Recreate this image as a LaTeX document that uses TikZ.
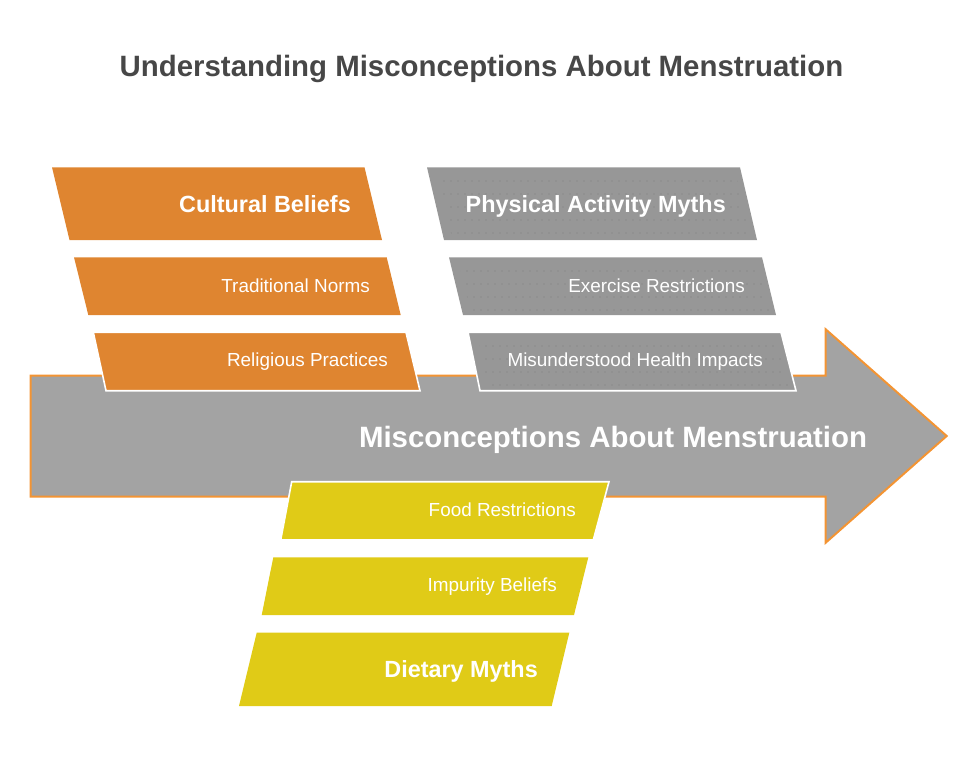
\documentclass[tikz,border=0pt]{standalone}
\usepackage{fontspec}
\setmainfont{Liberation Sans}
\definecolor{orfill}{RGB}{223,133,48}
\definecolor{gyfill}{RGB}{151,151,151}
\definecolor{gydot}{RGB}{128,128,128}
\definecolor{arfill}{RGB}{163,163,163}
\definecolor{arline}{RGB}{243,148,51}
\definecolor{ylfill}{RGB}{224,203,23}
\definecolor{titlecol}{RGB}{71,71,71}
\tikzset{
  arrowshape/.style={fill=arfill, draw=arline, line width=2pt, line join=miter},
  orbox/.style={fill=orfill},
  gybox/.style={fill=gyfill},
  ylbox/.style={fill=ylfill},
  overlapline/.style={draw=white, line width=1.6pt, line join=miter},
  dotfill/.style={fill=gydot},
  headlbl/.style={text=white, font=\bfseries\fontsize{23.4}{26}\selectfont, inner sep=0pt, anchor=base east},
  itemlbl/.style={text=white, font=\fontsize{18.9}{22}\selectfont, inner sep=0pt, anchor=base east},
  mainlbl/.style={text=white, font=\bfseries\fontsize{29.4}{33}\selectfont, inner sep=0pt, anchor=base},
  titlelbl/.style={text=titlecol, font=\bfseries\fontsize{29.4}{33}\selectfont, inner sep=0pt, anchor=base}
}
% dotted texture inside a gray box: #1 list of x, #2 list of y
\newcommand{\graydots}[2]{%
  \foreach \yy in {#2}{%
    \foreach \xx in {#1}{%
      \fill[dotfill] (\xx,\yy) circle[radius=0.55pt];
    }%
  }%
}
\begin{document}
\begin{tikzpicture}[x=1pt,y=-1pt]
\useasboundingbox (0,0) rectangle (978,769);
\node[titlelbl] (title) at (481.5,76.7) {Understanding Misconceptions About Menstruation};
% main arrow
\draw[arrowshape] (30.7,375.7) -- (825.7,375.7) -- (825.7,329.3) -- (946.7,436) -- (825.7,542.7) -- (825.7,496.5) -- (30.7,496.5) -- cycle;
\node[mainlbl] (main) at (613,447) {Misconceptions About Menstruation};
% orange boxes
\path[orbox] (52,167.3) -- (364.5,167.3) -- (382,240) -- (69.5,240) -- cycle;
\node[headlbl] (cult) at (351,212.7) {Cultural Beliefs};
\path[orbox] (74,257.3) -- (386.7,257.3) -- (400.7,315) -- (88.3,315) -- cycle;
\node[itemlbl] (trad) at (370,292.3) {Traditional Norms};
\path[orbox, overlapline] (93.3,332.3) -- (406,332.3) -- (420,390.7) -- (106,390.7) -- cycle;
\node[itemlbl] (relig) at (388,366.7) {Religious Practices};
% gray boxes
\path[gybox] (427,167.3) -- (740,167.3) -- (757,240) -- (444,240) -- cycle;
\begin{scope}
\clip (436,170) -- (735,170) -- (751,237) -- (452,237) -- cycle;
\graydots{430,437,...,755}{181,194,207,220,233}
\end{scope}
\node[headlbl] (phys) at (726,212.7) {Physical Activity Myths};
\path[gybox] (449,257.3) -- (762,257.3) -- (776,315) -- (463,315) -- cycle;
\begin{scope}
\clip (458,260) -- (757,260) -- (770,313) -- (471,313) -- cycle;
\graydots{453,460,...,775}{271,284,297,310}
\end{scope}
\node[itemlbl] (exer) at (745,292.3) {Exercise Restrictions};
\path[gybox, overlapline] (468,332.3) -- (781,332.3) -- (796,390.7) -- (480,390.7) -- cycle;
\begin{scope}
\clip (477,335) -- (776,335) -- (790,388) -- (489,388) -- cycle;
\graydots{472,479,...,795}{346,359,372,385}
\end{scope}
\node[itemlbl] (health) at (763,366.7) {Misunderstood Health Impacts};
% yellow boxes
\path[ylbox, overlapline] (291.7,481.7) -- (609,481.7) -- (593.3,540) -- (280.7,540) -- cycle;
\node[itemlbl] (food) at (576,516.7) {Food Restrictions};
\path[ylbox] (273.3,557.3) -- (588.3,557.3) -- (574,615) -- (261.7,615) -- cycle;
\node[itemlbl] (impur) at (557,591.7) {Impurity Beliefs};
\path[ylbox] (256.7,632.7) -- (569.3,632.7) -- (551.7,706) -- (239,706) -- cycle;
\node[headlbl] (diet) at (538,677.3) {Dietary Myths};
\end{tikzpicture}
\end{document}
